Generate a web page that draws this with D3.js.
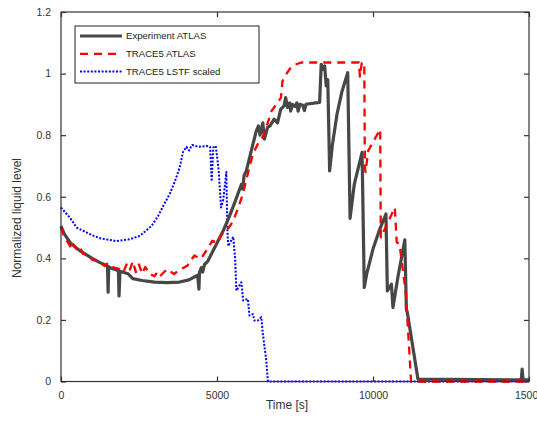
<!DOCTYPE html>
<html>
<head>
<meta charset="utf-8">
<script src="https://cdn.jsdelivr.net/npm/d3@7"></script>
<style>
  body { margin: 0; background: #fff; }
  .axis text { font-family: Arial, "Liberation Sans", sans-serif; font-size: 10.5px; fill: #333; }
  .axis line { stroke: #333; stroke-width: 1.2; }
  .axis path { display: none; }
</style>
</head>
<body>
<div id="chart"></div>
<script>
// time [s], normalized level
var experimentAtlas = [
  [0,0.505],[100,0.48],[300,0.45],[600,0.425],[1000,0.40],[1250,0.386],[1490,0.375],[1510,0.29],
  [1530,0.373],[1560,0.37],[1840,0.36],[1860,0.278],[1890,0.358],[2150,0.35],[2300,0.334],
  [2600,0.328],[3000,0.323],[3400,0.321],[3800,0.323],[4100,0.33],[4380,0.345],[4420,0.30],
  [4440,0.355],[4500,0.37],[4540,0.355],[4600,0.38],[4700,0.39],[5000,0.45],[5200,0.49],
  [5400,0.537],[5600,0.59],[5780,0.64],[5820,0.625],[5870,0.67],[5940,0.684],[6100,0.75],
  [6260,0.814],[6330,0.83],[6380,0.80],[6470,0.84],[6520,0.787],[6620,0.825],[6700,0.83],
  [6830,0.852],[6940,0.84],[7040,0.884],[7150,0.895],[7200,0.922],[7260,0.89],[7330,0.905],
  [7360,0.878],[7420,0.9],[7500,0.893],[7560,0.905],[7600,0.878],[7660,0.9],[7750,0.897],
  [7800,0.88],[7850,0.9],[7950,0.902],[8050,0.903],[8150,0.905],[8290,0.906],[8340,1.03],
  [8390,1.014],[8450,1.025],[8500,0.96],[8550,0.98],[8610,0.684],[8700,0.77],[8850,0.87],
  [9000,0.94],[9190,1.003],[9265,0.53],[9400,0.64],[9650,0.744],[9720,0.305],[9800,0.35],
  [10000,0.43],[10200,0.49],[10415,0.544],[10460,0.294],[10590,0.316],[10640,0.24],
  [10800,0.34],[11020,0.46],[11070,0.234],[11100,0.224],[11440,0.008],[14750,0.005],
  [14780,0.04],[14810,0.005],[15000,0.005]
];

var trace5Atlas = [
  [0,0.50],[100,0.47],[200,0.455],[350,0.43],[400,0.445],[500,0.43],[600,0.44],[700,0.415],
  [900,0.41],[1000,0.395],[1200,0.39],[1400,0.375],[1500,0.385],[1700,0.37],[1900,0.365],
  [2000,0.355],[2100,0.38],[2200,0.36],[2300,0.39],[2400,0.355],[2500,0.38],[2600,0.35],
  [2700,0.372],[2850,0.349],[3000,0.342],[3100,0.358],[3200,0.345],[3400,0.365],[3620,0.349],
  [3840,0.365],[4050,0.376],[4270,0.409],[4480,0.398],[4690,0.43],[4850,0.457],[5020,0.45],
  [5120,0.474],[5230,0.484],[5300,0.49],[5450,0.51],[5550,0.53],[5700,0.57],[5830,0.609],
  [6000,0.68],[6150,0.739],[6300,0.77],[6500,0.80],[6750,0.879],[6900,0.9],[7050,0.922],
  [7100,0.976],[7250,1.003],[7400,1.025],[7700,1.036],[9550,1.036],[9580,0.99],[9640,1.035],
  [9720,1.035],[9740,0.695],[9760,0.68],[9850,0.75],[10230,0.819],[10250,0.468],
  [10700,0.565],[10760,0.452],[10850,0.446],[11055,0.284],[11220,0],[15000,0]
];

var trace5LstfScaled = [
  [0,0.565],[300,0.53],[500,0.50],[1000,0.475],[1250,0.465],[1780,0.456],[2200,0.462],
  [2530,0.473],[2900,0.505],[3110,0.537],[3300,0.575],[3485,0.609],[3650,0.65],[3805,0.695],
  [3910,0.745],[4020,0.762],[4100,0.75],[4200,0.768],[4400,0.762],[4660,0.765],[4780,0.762],
  [4830,0.65],[4880,0.76],[4960,0.765],[5050,0.69],[5130,0.565],[5200,0.59],[5300,0.68],
  [5330,0.5],[5360,0.44],[5520,0.47],[5580,0.40],[5620,0.295],[5780,0.322],[5840,0.263],
  [5990,0.268],[6040,0.214],[6150,0.219],[6200,0.198],[6310,0.198],[6420,0.209],[6470,0.154],
  [6580,0.068],[6630,0],[15000,0]
];

var xTicks = [0, 5000, 10000, 15000];
var yTicks = [0, 0.2, 0.4, 0.6, 0.8, 1, 1.2];
var legendNames = ["Experiment ATLAS", "TRACE5 ATLAS", "TRACE5 LSTF scaled"];

var w = 537, h = 425;
var margin = {top: 12, right: 8, bottom: 43.5, left: 61};

var svg = d3.select("#chart").append("svg")
  .attr("width", w)
  .attr("height", h);

var xScale = d3.scaleLinear()
  .domain([0, 15000])
  .range([margin.left, w - margin.right]);

var yScale = d3.scaleLinear()
  .domain([0, 1.2])
  .range([h - margin.bottom, margin.top]);

var line = d3.line()
  .x(function(d) { return xScale(d[0]); })
  .y(function(d) { return yScale(d[1]); });

var styles = [
  {data: experimentAtlas, color: "#474747", width: 3.2, dash: null},
  {data: trace5Atlas, color: "#ff0000", width: 2.3, dash: "8,6"},
  {data: trace5LstfScaled, color: "#0000ff", width: 2, dash: "2,1.6"}
];

// draw order: blue under, black, red on top
[2, 0, 1].forEach(function(i) {
  var s = styles[i];
  svg.append("path")
    .datum(s.data)
    .attr("fill", "none")
    .attr("stroke", s.color)
    .attr("stroke-width", s.width)
    .attr("stroke-dasharray", s.dash)
    .attr("stroke-linejoin", "round")
    .attr("d", line);
});

// axes with inward ticks on all four sides
svg.append("g")
  .attr("class", "axis")
  .attr("transform", "translate(0," + (h - margin.bottom) + ")")
  .call(d3.axisBottom(xScale).tickValues(xTicks).tickSize(-5).tickPadding(10).tickFormat(d3.format("d")));

svg.append("g")
  .attr("class", "axis")
  .attr("transform", "translate(0," + margin.top + ")")
  .call(d3.axisTop(xScale).tickValues(xTicks).tickSize(-5).tickFormat(""));

svg.append("g")
  .attr("class", "axis")
  .attr("transform", "translate(" + margin.left + ",0)")
  .call(d3.axisLeft(yScale).tickValues(yTicks).tickSize(-5).tickPadding(10).tickFormat(d3.format("~g")));

svg.append("g")
  .attr("class", "axis")
  .attr("transform", "translate(" + (w - margin.right) + ",0)")
  .call(d3.axisRight(yScale).tickValues(yTicks).tickSize(-5).tickFormat(""));

svg.append("rect")
  .attr("x", margin.left)
  .attr("y", margin.top)
  .attr("width", w - margin.left - margin.right)
  .attr("height", h - margin.top - margin.bottom)
  .attr("fill", "none")
  .attr("stroke", "#333")
  .attr("stroke-width", 1.2);

// axis titles
svg.append("text")
  .attr("x", 287)
  .attr("y", 409)
  .attr("text-anchor", "middle")
  .style("font-family", "Arial, 'Liberation Sans', sans-serif")
  .style("font-size", "12px")
  .style("fill", "#333")
  .text("Time [s]");

svg.append("text")
  .attr("transform", "translate(21,218) rotate(-90)")
  .attr("text-anchor", "middle")
  .style("font-family", "Arial, 'Liberation Sans', sans-serif")
  .style("font-size", "12px")
  .style("fill", "#333")
  .text("Normalized liquid level");

// legend
var legend = svg.append("g");

legend.append("rect")
  .attr("x", 75)
  .attr("y", 26)
  .attr("width", 184)
  .attr("height", 57)
  .attr("fill", "#fff")
  .attr("stroke", "#222")
  .attr("stroke-width", 1);

legendNames.forEach(function(name, i) {
  var s = styles[i];
  var yy = 36 + i * 17.8;
  legend.append("line")
    .attr("x1", 80).attr("x2", 122)
    .attr("y1", yy).attr("y2", yy)
    .attr("stroke", s.color)
    .attr("stroke-width", s.width)
    .attr("stroke-dasharray", s.dash);
  legend.append("text")
    .attr("x", 126)
    .attr("y", yy + 3.4)
    .style("font-family", "Arial, 'Liberation Sans', sans-serif")
    .style("font-size", "9.6px")
    .style("fill", "#222")
    .text(name);
});
</script>
</body>
</html>
